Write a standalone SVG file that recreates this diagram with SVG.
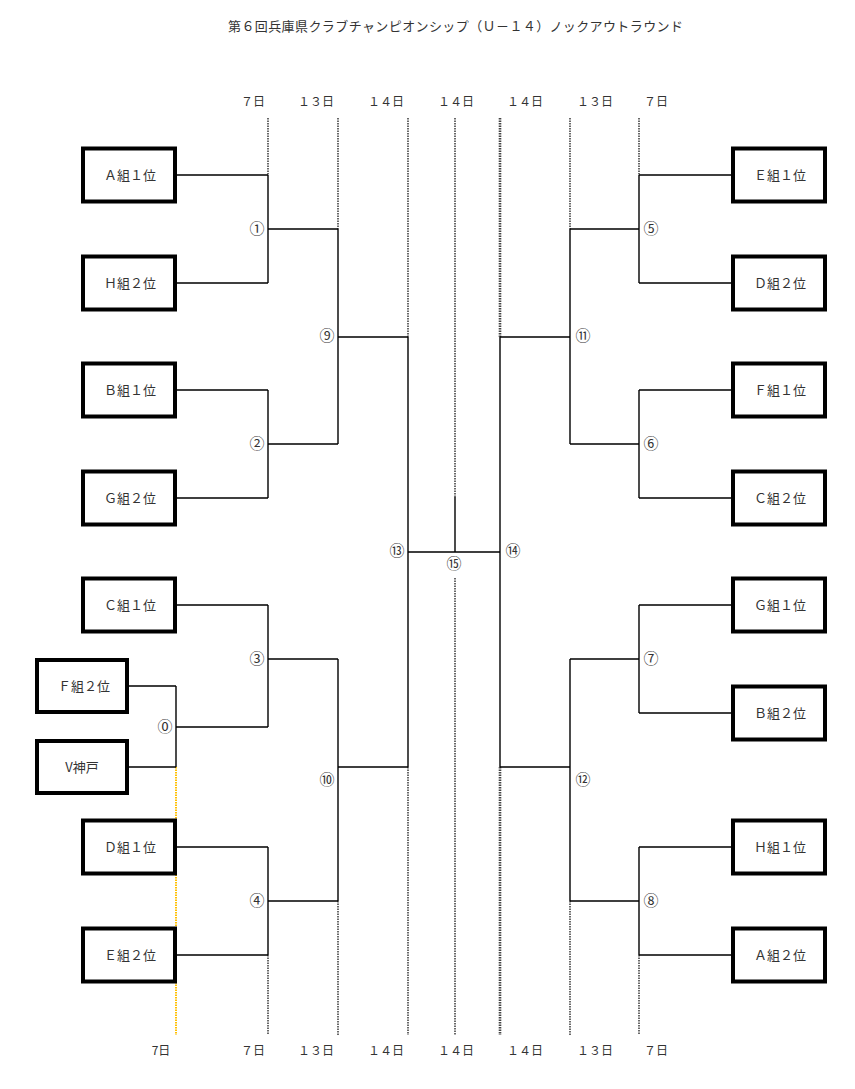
<svg xmlns="http://www.w3.org/2000/svg" width="855" height="1089" viewBox="0 0 855 1089">
<style>
text{font-family:"Noto Sans CJK JP","Liberation Sans",sans-serif;fill:#333;}
.t{font-size:13px;}
.d{font-size:12px;text-anchor:middle;}
.n{font-size:13px;text-anchor:middle;}
.c{font-size:15px;text-anchor:middle;}
.box{fill:#fff;stroke:#000;stroke-width:4;}
.ln{fill:none;stroke:#000;stroke-width:1.4;}
.dot{fill:none;stroke:#444;stroke-width:1.6;stroke-dasharray:1.5 1;}
.dotw{fill:none;stroke:#444;stroke-width:2.6;stroke-dasharray:1.5 1;}
.yel{fill:none;stroke:#ffc000;stroke-width:2;stroke-dasharray:1.5 1;}
</style>
<rect width="855" height="1089" fill="#fff"/>
<text class="t" x="228" y="31" textLength="455" lengthAdjust="spacing">第６回兵庫県クラブチャンピオンシップ（Ｕ－１４）ノックアウトラウンド</text>
<g id="dates-top">
<text class="d" x="253" y="106">７日</text>
<text class="d" x="316" y="106">１３日</text>
<text class="d" x="386" y="106">１４日</text>
<text class="d" x="456" y="106">１４日</text>
<text class="d" x="525" y="106">１４日</text>
<text class="d" x="595" y="106">１３日</text>
<text class="d" x="656" y="106">７日</text>
</g>
<g id="dates-bottom">
<text class="d" x="161" y="1055">7日</text>
<text class="d" x="253" y="1055">７日</text>
<text class="d" x="316" y="1055">１３日</text>
<text class="d" x="386" y="1055">１４日</text>
<text class="d" x="456" y="1055">１４日</text>
<text class="d" x="525" y="1055">１４日</text>
<text class="d" x="595" y="1055">１３日</text>
<text class="d" x="656" y="1055">７日</text>
</g>
<g id="guides">
<path class="dot" d="M268 118V175M268 955V1035M338 118V229M338 901V1035M408 118V337M408 767V1035M455 118V497M455 578V1035M570 118V229M570 901V1035M639 118V175M639 955V1035"/>
<path class="dotw" d="M500 118V337M500 767V1035"/>
<path class="yel" d="M176 767V1035"/>
</g>
<g id="connectors">
<path class="ln" d="M176 175H268M176 283H268M268 175V283M268 229H338"/>
<path class="ln" d="M176 390H268M176 498H268M268 390V498M268 444H338"/>
<path class="ln" d="M338 229V444M338 337H408"/>
<path class="ln" d="M128 686H176M128 767H176M176 686V767M176 727H268"/>
<path class="ln" d="M176 605H268M268 605V727M268 659H338"/>
<path class="ln" d="M176 847H268M176 955H268M268 847V955M268 901H338"/>
<path class="ln" d="M338 659V901M338 767H408"/>
<path class="ln" d="M408 337V767M408 552H500M455 497V552"/>
<path class="ln" d="M732 175H639M732 283H639M639 175V283M570 229H639"/>
<path class="ln" d="M732 390H639M732 498H639M639 390V498M570 444H639"/>
<path class="ln" d="M570 229V444M500 337H570"/>
<path class="ln" d="M732 605H639M732 713H639M639 605V713M570 659H639"/>
<path class="ln" d="M732 847H639M732 955H639M639 847V955M570 901H639"/>
<path class="ln" d="M570 659V901M500 767H570"/>
<path class="ln" d="M500 337V767"/>
</g>
<g id="node-A1"><rect class="box" x="83" y="148.5" width="92" height="53"/><text class="n" x="130" y="180">Ａ組１位</text></g>
<g id="node-H2"><rect class="box" x="83" y="256.5" width="92" height="53"/><text class="n" x="130" y="288">Ｈ組２位</text></g>
<g id="node-B1"><rect class="box" x="83" y="363.5" width="92" height="53"/><text class="n" x="130" y="395">Ｂ組１位</text></g>
<g id="node-G2"><rect class="box" x="83" y="471.5" width="92" height="53"/><text class="n" x="130" y="503">Ｇ組２位</text></g>
<g id="node-C1"><rect class="box" x="83" y="578.5" width="92" height="53"/><text class="n" x="130" y="610">Ｃ組１位</text></g>
<g id="node-F2"><rect class="box" x="37" y="660" width="90" height="52"/><text class="n" x="84" y="691">Ｆ組２位</text></g>
<g id="node-V"><rect class="box" x="37" y="741" width="90" height="52"/><text class="n" x="82" y="772">V神戸</text></g>
<g id="node-D1"><rect class="box" x="83" y="820.5" width="92" height="53"/><text class="n" x="130" y="852">Ｄ組１位</text></g>
<g id="node-E2"><rect class="box" x="83" y="928.5" width="92" height="53"/><text class="n" x="130" y="960">Ｅ組２位</text></g>
<g id="node-E1"><rect class="box" x="733" y="148.5" width="92" height="53"/><text class="n" x="780" y="180">Ｅ組１位</text></g>
<g id="node-D2"><rect class="box" x="733" y="256.5" width="92" height="53"/><text class="n" x="780" y="288">Ｄ組２位</text></g>
<g id="node-F1"><rect class="box" x="733" y="363.5" width="92" height="53"/><text class="n" x="780" y="395">Ｆ組１位</text></g>
<g id="node-C2"><rect class="box" x="733" y="471.5" width="92" height="53"/><text class="n" x="780" y="503">Ｃ組２位</text></g>
<g id="node-G1"><rect class="box" x="733" y="578.5" width="92" height="53"/><text class="n" x="780" y="610">Ｇ組１位</text></g>
<g id="node-B2"><rect class="box" x="733" y="686.5" width="92" height="53"/><text class="n" x="780" y="718">Ｂ組２位</text></g>
<g id="node-H1"><rect class="box" x="733" y="820.5" width="92" height="53"/><text class="n" x="780" y="852">Ｈ組１位</text></g>
<g id="node-A2"><rect class="box" x="733" y="928.5" width="92" height="53"/><text class="n" x="780" y="960">Ａ組２位</text></g>
<g id="match-labels">
<text class="c" x="257" y="234">①</text>
<text class="c" x="257" y="449">②</text>
<text class="c" x="257" y="664">③</text>
<text class="c" x="257" y="906">④</text>
<text class="c" x="165" y="732">⓪</text>
<text class="c" x="327" y="341">⑨</text>
<text class="c" x="327" y="785">⑩</text>
<text class="c" x="397" y="556">⑬</text>
<text class="c" x="454" y="569">⑮</text>
<text class="c" x="513" y="556">⑭</text>
<text class="c" x="583" y="341">⑪</text>
<text class="c" x="583" y="785">⑫</text>
<text class="c" x="651" y="234">⑤</text>
<text class="c" x="651" y="449">⑥</text>
<text class="c" x="651" y="664">⑦</text>
<text class="c" x="651" y="906">⑧</text>
</g>
</svg>
